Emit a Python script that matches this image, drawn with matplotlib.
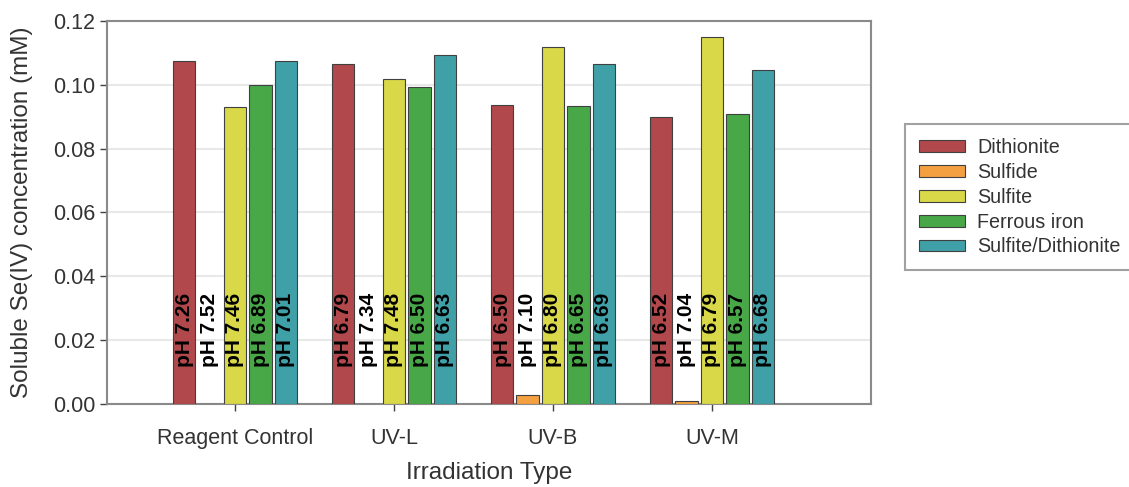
import numpy as np
import matplotlib.pyplot as plt

plt.rcParams['font.family'] = ['Liberation Sans', 'DejaVu Sans']

categories = ['Reagent Control', 'UV-L', 'UV-B', 'UV-M']
series = ['Dithionite', 'Sulfide', 'Sulfite', 'Ferrous iron', 'Sulfite/Dithionite']
colors = ['#b0484c', '#f4a040', '#d8d848', '#48a848', '#40a0a8']

dithionite = [0.1075, 0.1065, 0.0937, 0.0898]
sulfide = [0.0, 0.0, 0.0029, 0.0010]
sulfite = [0.0932, 0.1019, 0.1119, 0.1149]
ferrous = [0.1000, 0.0992, 0.0933, 0.0908]
sulf_dith = [0.1075, 0.1092, 0.1065, 0.1047]
values = [dithionite, sulfide, sulfite, ferrous, sulf_dith]

ph_labels = [
    ['7.26', '6.79', '6.50', '6.52'],
    ['7.52', '7.34', '7.10', '7.04'],
    ['7.46', '7.48', '6.80', '6.79'],
    ['6.89', '6.50', '6.65', '6.57'],
    ['7.01', '6.63', '6.69', '6.68'],
]

fig = plt.figure(figsize=(11.29, 4.87), dpi=100)
ax = fig.add_axes([107/1129, 1 - 404/487, (871-107)/1129, (404-21)/487])

x = np.arange(len(categories))
step = 0.16
width = 0.14
for i, (name, vals, col) in enumerate(zip(series, values, colors)):
    xs = x + (i - 2) * step
    ax.bar(xs, vals, width, color=col, edgecolor='#404040', linewidth=0.8,
           label=name, zorder=3)
    for xi, lab in zip(xs, ph_labels[i]):
        ax.text(xi, 0.0115, 'pH ' + lab, rotation=90, ha='center', va='bottom',
                fontsize=15, fontweight='bold', color='black', zorder=4)

ax.set_xlim(-0.805, 4.0)
ax.set_ylim(0, 0.12)
ax.set_yticks(np.arange(0, 0.121, 0.02))
ax.set_yticklabels(['%.2f' % v for v in np.arange(0, 0.121, 0.02)])
ax.set_xticks(x)
ax.set_xticklabels(categories)
ax.tick_params(axis='both', labelsize=15.5, colors='#404040', length=5,
               width=1, labelcolor='#333333')
ax.tick_params(axis='x', pad=12)
ax.yaxis.grid(True, color='#e8e8e8', linewidth=1.5, zorder=0)
ax.set_axisbelow(True)
for s in ax.spines.values():
    s.set_color('#8a8a8a')
    s.set_linewidth(1.5)

ax.set_ylabel('Soluble Se(IV) concentration (mM)', fontsize=17.5, color='#333333')
ax.yaxis.set_label_coords(-0.097, 0.5)
ax.set_xlabel('Irradiation Type', fontsize=17.5, color='#333333', labelpad=10)

leg = fig.legend(loc='upper left', bbox_to_anchor=(905/1129, 1 - 124/487),
                 borderaxespad=0, fontsize=14.2, frameon=True, fancybox=False,
                 handlelength=2.35, handleheight=0.55, labelspacing=0.3,
                 borderpad=0.7, handletextpad=0.6)
leg.get_frame().set_edgecolor('#8a8a8a')
leg.get_frame().set_linewidth(1.5)
for t in leg.get_texts():
    t.set_color('#333333')

fig.savefig('out.png', dpi=100)
